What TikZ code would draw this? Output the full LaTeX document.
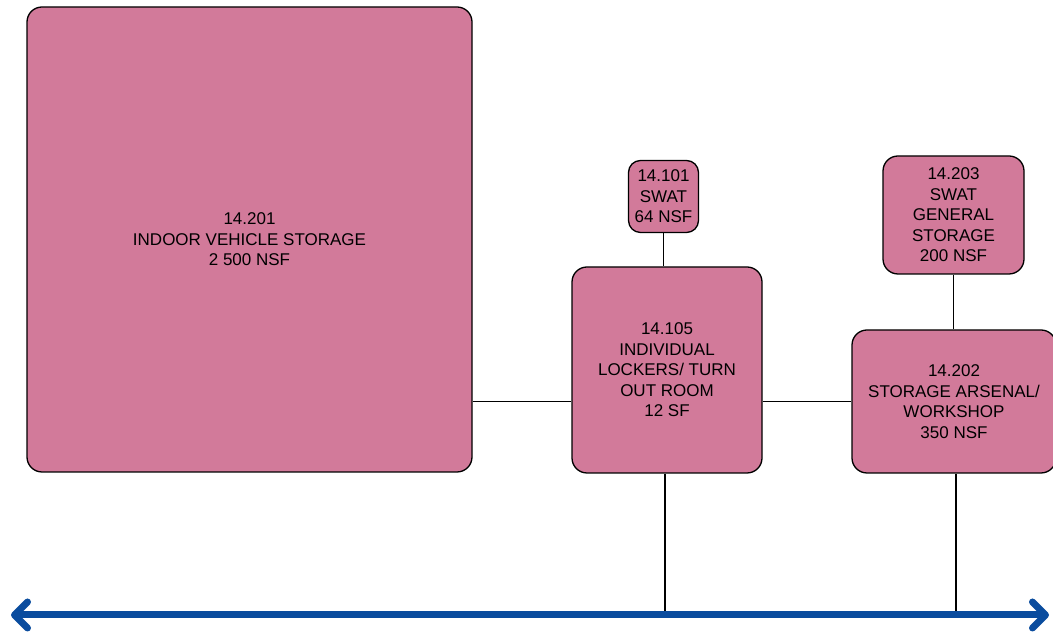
\documentclass[tikz,border=0pt]{standalone}
\usepackage{fontspec}
\setmainfont{Liberation Sans}
\usetikzlibrary{arrows.meta}
\definecolor{roomfill}{RGB}{210,122,154}
\definecolor{axisblue}{RGB}{10,76,158}
\begin{document}
\begin{tikzpicture}[x=1pt,y=1pt,
  room/.style={draw=black, line width=1.3pt, fill=roomfill, rounded corners=15pt,
    align=center, inner sep=0pt, font=\fontsize{17}{20.5}\selectfont},
  smallroom/.style={room, rounded corners=12pt},
  link/.style={draw=black, line width=1.6pt}]
\useasboundingbox (0,0) rectangle (1053,634);
\node[room, minimum width=445, minimum height=465] (big) at (249.5,394.5)
  {14.201\\INDOOR VEHICLE STORAGE\\2 500 NSF};
\node[smallroom, minimum width=70, minimum height=72] (s101) at (663.5,437.5)
  {14.101\\SWAT\\64 NSF};
\node[room, minimum width=190, minimum height=206] (s105) at (667,264)
  {14.105\\INDIVIDUAL\\LOCKERS/ TURN\\OUT ROOM\\12 SF};
\node[room, minimum width=141, minimum height=118] (s203) at (953.5,419)
  {14.203\\SWAT\\GENERAL\\STORAGE\\200 NSF};
\node[room, minimum width=204, minimum height=143] (s202) at (954,232.5)
  {14.202\\STORAGE ARSENAL/\\WORKSHOP\\350 NSF};
\coordinate (aL) at (11,19);
\coordinate (aR) at (1049,19);
\draw[link] (s101.south) -- (s101.south |- s105.north);
\draw[link] (s203.south) -- (s203.south |- s202.north);
\draw[link] (big.east |- s202.west) -- (s105.west |- s202.west);
\draw[link] (s105.east |- s202.west) -- (s202.west);
\draw[link] ([xshift=-2pt]s105.south) -- ([xshift=-2pt]s105.south |- aL);
\draw[link] ([xshift=2pt]s202.south) -- ([xshift=2pt]s202.south |- aL);
\draw[axisblue, line width=7pt, line cap=round,
  {Straight Barb[length=13pt, width=26pt, line cap=round, line join=round]}-{Straight Barb[length=13pt, width=26pt, line cap=round, line join=round]}]
  (aL) -- (aR);
\end{tikzpicture}
\end{document}
